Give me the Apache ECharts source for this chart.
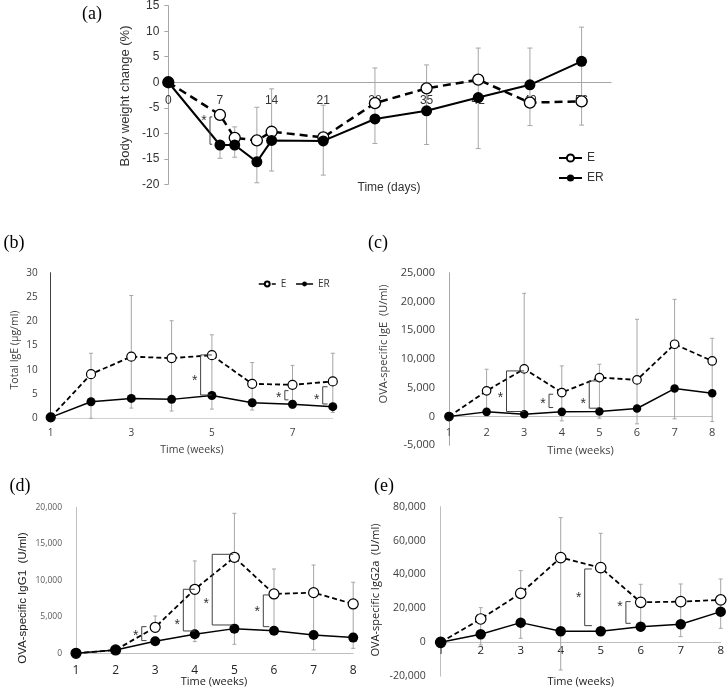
<!DOCTYPE html>
<html><head><meta charset="utf-8">
<script src="https://cdn.jsdelivr.net/npm/echarts@6/dist/echarts.min.js"></script>
<style>html,body{margin:0;padding:0;background:#fff}#c{width:728px;height:695px}</style>
</head><body><div id="c"></div>
<script>
// ---------- DATA ----------
// (a) body weight change (%)
const aDays    = [0, 7, 9, 12, 14, 21, 28, 35, 42, 49, 56];
const aE       = [0, -6.4, -10.9, -11.4, -9.7, -10.8, -4.1, -1.2, 0.5, -4.0, -3.75];
const aER      = [0, -12.3, -12.3, -15.6, -11.4, -11.5, -7.2, -5.6, -3.0, -0.5, 4.1];
const aErrLow  = [0, -14.9, -14.7, -19.7, -17.4, -18.2, -12.0, -12.2, -13.0, -8.5, -8.4];
const aErrHigh = [0, -12.3, -8.75, -4.9, -1.3, -4.5, 2.8, 3.4, 6.7, 6.7, 10.8];
const aSig     = [[5.65, -6.8, -12.15, 5.95, -7.0]];   // [x, top, bottom, tickEnd, starY]

const weeks = [1, 2, 3, 4, 5, 6, 7, 8];
// (b) Total IgE (ug/ml)
const bE       = [0.2, 9.1, 12.7, 12.4, 13.0, 7.1, 6.9, 7.6];
const bER      = [0.2, 3.4, 4.1, 3.9, 4.7, 3.2, 2.9, 2.4];
const bErrLow  = [0.2, 0, 2.1, 1.5, 1.9, 1.7, 2.0, 1.2];
const bErrHigh = [0.2, 13.4, 25.3, 20.1, 17.2, 11.5, 10.9, 13.4];
const bSig     = [[4.72, 13.05, 4.8, 5.0, 8.2], [6.81, 5.7, 3.8, 6.9, 4.8], [7.75, 6.5, 2.95, 7.87, 4.45]];
// (c) OVA-specific IgE (U/ml)
const cE       = [0, 4460, 8280, 4170, 6770, 6370, 12560, 9660];
const cER      = [0, 810, 400, 810, 870, 1390, 4860, 4050];
const cErrLow  = [0, 0, 400, -750, -290, -1270, -400, -870];
const cErrHigh = [0, 8220, 21410, 8800, 9090, 16900, 20370, 13600];
const cSig     = [[2.53, 7930, 870, 3.0, 3770], [3.66, 3880, 1560, 3.77, 2600], [4.73, 6190, 1450, 4.97, 2600]];
// (d) OVA-specific IgG1 (U/ml)
const dE       = [0, 460, 3560, 8770, 13150, 8130, 8310, 6760];
const dER      = [0, 460, 1640, 2600, 3380, 3100, 2510, 2150];
const dErrLow  = [0, 460, 3560, 1600, 1230, 3100, 460, 680];
const dErrHigh = [0, 460, 5110, 12650, 19180, 11550, 12100, 9730];
const dSig     = [[2.66, 3650, 1740, 2.78, 2780], [3.71, 8770, 3060, 4.0, 4330], [4.44, 13560, 3880, 4.97, 7200], [5.73, 7990, 3650, 5.88, 6030]];
// (e) OVA-specific IgG2a (U/ml)
const eE       = [0, 13760, 28900, 49950, 44050, 23600, 24000, 25000];
const eER      = [0, 4720, 11600, 6490, 6490, 9240, 10620, 18090];
const eErrLow  = [0, -1570, 2360, -16320, 6490, 9240, 3340, 8260];
const eErrHigh = [0, 20450, 42280, 73550, 64300, 34220, 34410, 37360];
const eSig     = [[4.6, 43260, 9830, 4.78, 27900], [5.63, 24000, 11210, 5.75, 22420]];

// ---------- CHART ----------
const thousands = v => Number(v).toLocaleString('en-US');
const SANS = 'Liberation Sans', OPEN = 'Open Sans';

const panels = [
  { x: aDays, e: aE, er: aER, lo: aErrLow, hi: aErrHigh, sig: aSig,
    grid: {left: 168.3, top: 5.7, width: 442.8, height: 178.6},
    xMin: 0, xMax: 60, xInt: 7, yMin: -20, yMax: 15, yInt: 5, showMaxX: false,
    xLine: '#a6a6a6', yLine: '#a6a6a6', yTick: true,
    xFont: {fontSize: 12, fontFamily: SANS, color: '#333'}, xMargin: -90,
    yFont: {fontSize: 12, fontFamily: SANS, color: '#333'}, yMargin: 9, yFmt: v => String(v),
    sym: 11, eWidth: 2.5, eDash: [8, 5], erWidth: 2, bw: 1.3, cap: 2.5 },
  { x: weeks, e: bE, er: bER, lo: bErrLow, hi: bErrHigh, sig: bSig,
    grid: {left: 50.7, top: 272.7, width: 282.1, height: 145.6},
    xMin: 1, xMax: 8, xInt: 2, yMin: 0, yMax: 30, yInt: 5, showMaxX: false,
    xLine: '#d0d0d0', yLine: '#404040', yTick: false,
    xFont: {fontSize: 10, fontFamily: OPEN, color: '#404040'}, xMargin: 10,
    yFont: {fontSize: 10, fontFamily: OPEN, color: '#404040'}, yMargin: 13, yFmt: v => String(v),
    sym: 9, eWidth: 1.8, eDash: [5, 3], erWidth: 1.5, bw: 1.2, cap: 2 },
  { x: weeks, e: cE, er: cER, lo: cErrLow, hi: cErrHigh, sig: cSig,
    grid: {left: 449, top: 272.7, width: 263.2, height: 172.6},
    xMin: 1, xMax: 8, xInt: 1, yMin: -5000, yMax: 25000, yInt: 5000, showMaxX: true,
    xLine: '#bfbfbf', yLine: '#a6a6a6', yTick: false,
    xFont: {fontSize: 11, fontFamily: OPEN, color: '#404040'}, xMargin: -17.5,
    yFont: {fontSize: 11, fontFamily: OPEN, color: '#404040'}, yMargin: 14, yFmt: thousands,
    sym: 8.5, eWidth: 1.8, eDash: [5, 3], erWidth: 1.5, bw: 1.2, cap: 2 },
  { x: weeks, e: dE, er: dER, lo: dErrLow, hi: dErrHigh, sig: dSig,
    grid: {left: 76, top: 507.3, width: 277.2, height: 146},
    xMin: 1, xMax: 8, xInt: 1, yMin: 0, yMax: 20000, yInt: 5000, showMaxX: true,
    xLine: '#bfbfbf', yLine: '#bfbfbf', yTick: false,
    xFont: {fontSize: 12, fontFamily: OPEN, color: '#222'}, xMargin: 11,
    yFont: {fontSize: 8.5, fontFamily: OPEN, color: '#595959'}, yMargin: 14, yFmt: thousands,
    sym: 10, eWidth: 1.8, eDash: [5, 3], erWidth: 1.5, bw: 1.2, cap: 2 },
  { x: weeks, e: eE, er: eER, lo: eErrLow, hi: eErrHigh, sig: eSig,
    grid: {left: 440.7, top: 506.7, width: 280, height: 169.5},
    xMin: 1, xMax: 8, xInt: 1, yMin: -20000, yMax: 80000, yInt: 20000, showMaxX: true,
    xLine: '#bfbfbf', yLine: '#bfbfbf', yTick: false,
    xFont: {fontSize: 11.5, fontFamily: OPEN, color: '#222'}, xMargin: -31,
    yFont: {fontSize: 10.5, fontFamily: OPEN, color: '#404040'}, yMargin: 15, yFmt: thousands,
    sym: 10.5, eWidth: 1.8, eDash: [5, 3], erWidth: 1.5, bw: 1.2, cap: 2 }
];

function errRender(cap) {
  return function (params, api) {
    const x = api.value(0), lo = api.value(1), hi = api.value(2);
    if (lo === hi) return {type: 'group', children: []};
    const a = api.coord([x, lo]), b = api.coord([x, hi]);
    const st = {stroke: '#a6a6a6', lineWidth: 1};
    return {type: 'group', children: [
      {type: 'line', shape: {x1: a[0], y1: a[1], x2: b[0], y2: b[1]}, style: st},
      {type: 'line', shape: {x1: a[0] - cap, y1: a[1], x2: a[0] + cap, y2: a[1]}, style: st},
      {type: 'line', shape: {x1: b[0] - cap, y1: b[1], x2: b[0] + cap, y2: b[1]}, style: st}
    ]};
  };
}
function sigRender(params, api) {
  const x = api.value(0), t = api.value(1), b = api.value(2), x2 = api.value(3), sy = api.value(4);
  const pt = api.coord([x, t]), pb = api.coord([x, b]), pe = api.coord([x2, t]), ps = api.coord([x, sy]);
  const st = {stroke: '#404040', lineWidth: 1};
  return {type: 'group', children: [
    {type: 'line', shape: {x1: pt[0], y1: pt[1], x2: pb[0], y2: pb[1]}, style: st},
    {type: 'line', shape: {x1: pt[0], y1: pt[1], x2: pe[0], y2: pt[1]}, style: st},
    {type: 'line', shape: {x1: pb[0], y1: pb[1], x2: pe[0], y2: pb[1]}, style: st},
    {type: 'text', x: ps[0] - 6, y: ps[1] + 3, style: {text: '*', font: '14px "Liberation Sans"', fill: '#333', align: 'center', verticalAlign: 'middle'}}
  ]};
}

const grids = [], xAxes = [], yAxes = [], series = [];
panels.forEach((p, i) => {
  grids.push(Object.assign({containLabel: false, outerBoundsMode: 'none'}, p.grid));
  xAxes.push({type: 'value', gridIndex: i, min: p.xMin, max: p.xMax, interval: p.xInt,
    axisLine: {onZero: true, lineStyle: {color: p.xLine, width: 1}},
    axisTick: {show: false}, splitLine: {show: false},
    axisLabel: Object.assign({margin: p.xMargin, showMaxLabel: p.showMaxX, showMinLabel: true}, p.xFont)});
  yAxes.push({type: 'value', gridIndex: i, min: p.yMin, max: p.yMax, interval: p.yInt,
    axisLine: {show: true, onZero: false, lineStyle: {color: p.yLine, width: 1}},
    axisTick: {show: p.yTick, length: 4, lineStyle: {color: p.yLine}}, splitLine: {show: false},
    axisLabel: Object.assign({margin: p.yMargin, formatter: p.yFmt}, p.yFont)});
  series.push({type: 'custom', xAxisIndex: i, yAxisIndex: i, z: 1, silent: true,
    data: p.x.map((x, k) => [x, p.lo[k], p.hi[k]]), encode: {x: 0, y: [1, 2]},
    renderItem: errRender(p.cap)});
  series.push({type: 'line', name: 'E', xAxisIndex: i, yAxisIndex: i, z: 3,
    data: p.x.map((x, k) => [x, p.e[k]]), symbol: 'circle', symbolSize: p.sym,
    lineStyle: {color: '#000', width: p.eWidth, type: p.eDash},
    itemStyle: {color: '#fff', borderColor: '#000', borderWidth: p.bw}});
  series.push({type: 'line', name: 'ER', xAxisIndex: i, yAxisIndex: i, z: 3,
    data: p.x.map((x, k) => [x, p.er[k]]), symbol: 'circle', symbolSize: p.sym,
    lineStyle: {color: '#000', width: p.erWidth},
    itemStyle: {color: '#000'}});
  series.push({type: 'custom', xAxisIndex: i, yAxisIndex: i, z: 4, silent: true,
    data: p.sig, encode: {x: [0, 3], y: [1, 2, 4]}, renderItem: sigRender});
});

function txt(text, x, y, font, rot, fill) {
  return {type: 'text', x: x, y: y, rotation: rot || 0, silent: true,
    style: {text: text, font: font, fill: fill || '#333', align: 'center', verticalAlign: 'middle'}};
}
const R = Math.PI / 2;
const graphic = [
  txt('(a)', 92, 14, '18px "Liberation Serif"', 0, '#000'),
  txt('(b)', 14, 243, '18px "Liberation Serif"', 0, '#000'),
  txt('(c)', 378, 243, '18px "Liberation Serif"', 0, '#000'),
  txt('(d)', 20, 486, '18px "Liberation Serif"', 0, '#000'),
  txt('(e)', 384, 486, '18px "Liberation Serif"', 0, '#000'),
  txt('Time (days)', 389, 188, '12px "Liberation Sans"'),
  txt('Time (weeks)', 192, 450, '10.5px "Open Sans"', 0, '#404040'),
  txt('Time (weeks)', 580.5, 451, '11px "Open Sans"', 0, '#404040'),
  txt('Time (weeks)', 214, 682, '11px "Open Sans"', 0, '#222'),
  txt('Time (weeks)', 580.7, 682, '11px "Open Sans"', 0, '#222'),
  txt('Body weight change (%)', 125, 96, '13px "Liberation Sans"', R),
  txt('Total IgE (μg/ml)', 15, 350, '10.5px "Open Sans"', R, '#404040'),
  txt('OVA-specific IgE  (U/ml)', 384, 344, '11px "Open Sans"', R, '#404040'),
  txt('OVA-specific IgG1  (U/ml)', 23, 598, '11.5px "Liberation Sans"', R, '#222'),
  txt('OVA-specific IgG2a  (U/ml)', 376, 590, '11px "Open Sans"', R, '#222')
];

const chart = echarts.init(document.getElementById('c'), null, {renderer: 'canvas'});
chart.setOption({
  animation: false,
  backgroundColor: '#fff',
  textStyle: {fontFamily: SANS},
  grid: grids, xAxis: xAxes, yAxis: yAxes, series: series, graphic: graphic,
  legend: [
    {left: 553, top: 147, orient: 'vertical', itemWidth: 23, itemHeight: 9, itemGap: 8,
     selectedMode: false, data: ['E', 'ER'], lineStyle: {type: 'solid', width: 2},
     textStyle: {fontSize: 12, color: '#333', fontFamily: SANS}},
    {left: 253, top: 274, orient: 'horizontal', itemWidth: 17, itemHeight: 6, itemGap: 9,
     selectedMode: false, data: ['E', 'ER'], lineStyle: {width: 1.5},
     textStyle: {fontSize: 10, color: '#333', fontFamily: OPEN}}
  ]
});
</script></body></html>
